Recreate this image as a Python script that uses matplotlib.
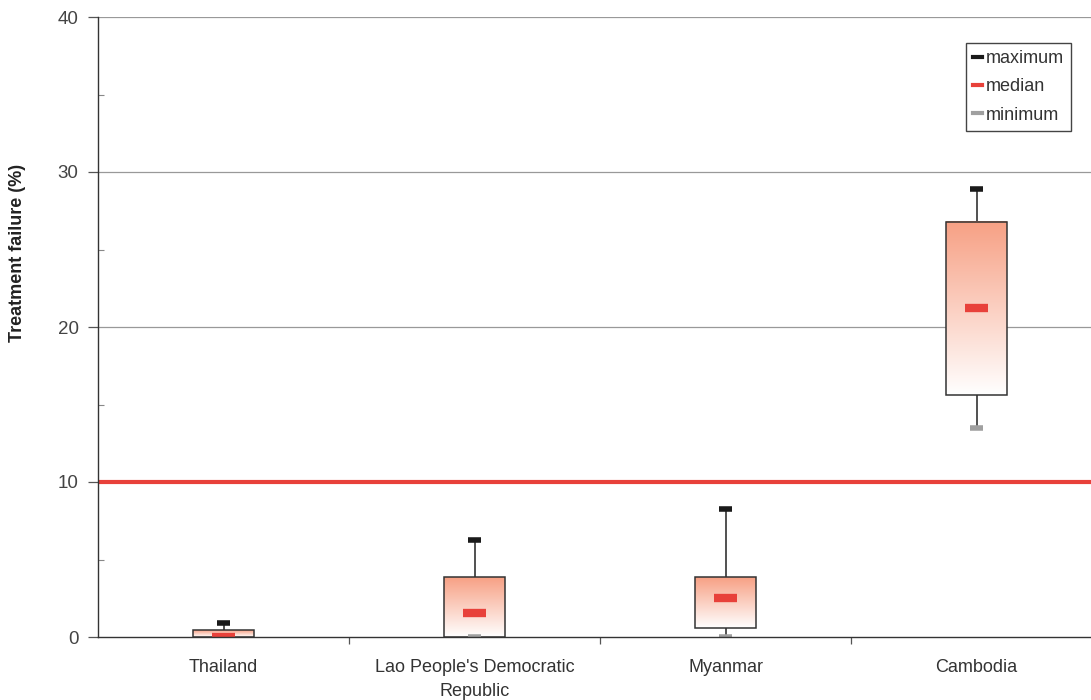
import matplotlib
matplotlib.use("Agg")
import matplotlib.pyplot as plt
import numpy as np
from matplotlib.lines import Line2D
from matplotlib.patches import Rectangle
from matplotlib.ticker import MultipleLocator, FixedLocator
from matplotlib.colors import LinearSegmentedColormap

categories = ["Thailand", "Lao People's Democratic\nRepublic", "Myanmar", "Cambodia"]
q1 = [0.0, 0.0, 0.58, 15.6]
q3 = [0.45, 3.87, 3.87, 26.8]
medians = [0.0, 1.55, 2.52, 21.2]
maxima = [0.9, 6.26, 8.26, 28.9]
minima = [0.0, 0.0, 0.0, 13.5]
threshold = 10

FONT = ['Liberation Sans Narrow', 'Liberation Sans', 'DejaVu Sans']
plt.rcParams['font.family'] = FONT

fig = plt.figure(figsize=(10.91, 7.0), dpi=100)
ax = fig.add_axes([98/1091, 63/700, 1004/1091, 620/700])

cmap = LinearSegmentedColormap.from_list("grad", ["#ffffff", "#f7a084"])
grad = np.linspace(0, 1, 256).reshape(-1, 1)

box_w = 0.24
cap_w = 0.052
med_w = 0.095
x = np.arange(1, len(categories) + 1)

for i in range(len(categories)):
    xi = x[i]
    ax.plot([xi, xi], [q3[i], maxima[i]], color="#222222", lw=1.1, zorder=3)
    ax.plot([xi, xi], [minima[i], q1[i]], color="#222222", lw=1.1, zorder=3)
    ax.imshow(grad, extent=[xi - box_w/2, xi + box_w/2, q1[i], q3[i]],
              origin="lower", cmap=cmap, aspect="auto", zorder=4)
    ax.add_patch(Rectangle((xi - box_w/2, q1[i]), box_w, q3[i] - q1[i],
                           fill=False, edgecolor="#333333", lw=1.1, zorder=5))
    ax.plot([xi - cap_w/2, xi + cap_w/2], [maxima[i]]*2, color="#1a1a1a",
            lw=4, solid_capstyle="butt", zorder=6)
    ax.plot([xi - cap_w/2, xi + cap_w/2], [minima[i]]*2, color="#a0a0a0",
            lw=4, solid_capstyle="butt", zorder=6)
    ax.plot([xi - med_w/2, xi + med_w/2], [medians[i]]*2, color="#e8413a",
            lw=6, solid_capstyle="butt", zorder=7)

ax.axhline(threshold, color="#e8413a", lw=3, zorder=2)

ax.set_xlim(0.5, len(categories) + 0.5)
ax.set_ylim(0, 40)

for yv in [10, 20, 30, 40]:
    if yv != threshold:
        ax.axhline(yv, color="#999999", lw=0.9, zorder=1)

for s in ["top", "right"]:
    ax.spines[s].set_visible(False)
for s in ["left", "bottom"]:
    ax.spines[s].set_color("#333333")
    ax.spines[s].set_linewidth(1.0)
    ax.spines[s].set_zorder(8)

ax.yaxis.set_major_locator(MultipleLocator(10))
ax.yaxis.set_minor_locator(FixedLocator([5, 15, 25, 35]))
ax.tick_params(axis="y", which="major", direction="out", length=7, width=0.9,
               color="#555555", labelsize=13.5, labelcolor="#444444", pad=7)
ax.tick_params(axis="y", which="minor", direction="in", length=4, width=0.8,
               color="#888888")

ax.set_xticks([1.5, 2.5, 3.5])
ax.set_xticklabels([])
ax.tick_params(axis="x", which="major", direction="out", length=5, width=0.9,
               color="#555555")
for xi, lab in zip(x, categories):
    ax.text(xi, -1.4, lab, ha="center", va="top", fontsize=13, color="#333333",
            transform=ax.transData, linespacing=1.55)

ax.set_ylabel("Treatment failure (%)", fontsize=13, fontweight="bold",
              color="#222222")
ax.yaxis.set_label_coords(-0.072, 0.62)

handles = [
    Line2D([], [], color="#1a1a1a", lw=3),
    Line2D([], [], color="#e8413a", lw=3),
    Line2D([], [], color="#a0a0a0", lw=3),
]
leg = ax.legend(handles, ["maximum", "median", "minimum"], loc="upper left",
                bbox_to_anchor=(868/1004, 1 - 26/620), fontsize=13,
                handlelength=0.5, handletextpad=0.2, borderpad=0.4,
                labelspacing=0.62, fancybox=False, framealpha=1,
                edgecolor="#444444", borderaxespad=0)
leg.get_frame().set_linewidth(1.0)
for t in leg.get_texts():
    t.set_color("#333333")

fig.savefig("out.png", dpi=100)
